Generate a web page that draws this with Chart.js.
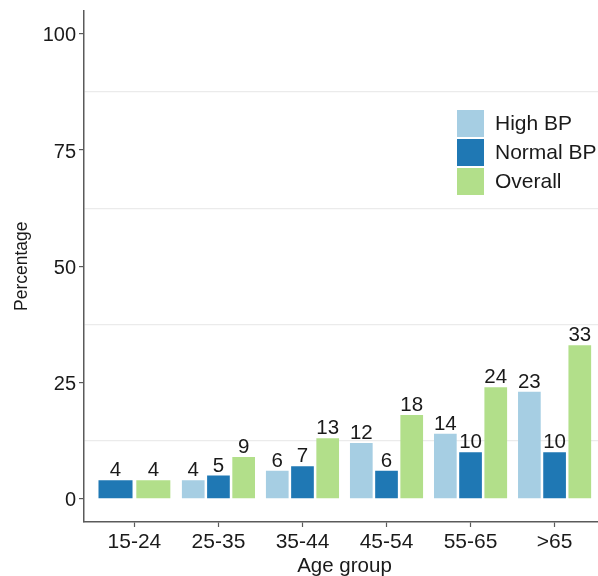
<!DOCTYPE html>
<html>
<head>
<meta charset="utf-8">
<script src="https://cdn.jsdelivr.net/npm/chart.js@4.4.1/dist/chart.umd.min.js"></script>
<style>
html,body{margin:0;padding:0;background:#fff;overflow:hidden;width:598px;height:576px;}
#wrap{position:absolute;left:0;top:0;width:605px;height:576px;}
canvas{display:block;}
</style>
</head>
<body>
<div id="wrap"><canvas id="c" width="605" height="576" style="width:605px;height:576px"></canvas></div>
<script>
// ---- data ----
const ageGroups = ['15-24', '25-35', '35-44', '45-54', '55-65', '>65'];
const highBP    = [null, 4, 6, 12, 14, 23];
const normalBP  = [4, 5, 7, 6, 10, 10];
const overall   = [4, 9, 13, 18, 24, 33];
const seriesNames = ['High BP', 'Normal BP', 'Overall'];
const seriesColors = ['#a6cee3', '#1f78b4', '#b2df8a'];
const yTickValues = [0, 12.5, 25, 37.5, 50, 62.5, 75, 87.5, 100];

const FONT = '"Liberation Sans", Arial, Helvetica, sans-serif';
const TXT = '#1a1a1a';
const AXIS = '#5a5a5a';

function toPoints(arr){ return arr.map((v,i)=>({x:i, y:v})); }

const valueLabels = {
  id: 'valueLabels',
  afterDatasetsDraw(chart){
    const ctx = chart.ctx;
    ctx.save();
    ctx.font = '20.5px ' + FONT;
    ctx.fillStyle = TXT;
    ctx.textAlign = 'center';
    ctx.textBaseline = 'alphabetic';
    chart.data.datasets.forEach((ds, di) => {
      const meta = chart.getDatasetMeta(di);
      meta.data.forEach((el, i) => {
        const v = ds.data[i].y;
        if (v === null || v === undefined) return;
        ctx.fillText(String(v), el.x, el.y - 4);
      });
    });
    ctx.restore();
  }
};

const customLegend = {
  id: 'customLegend',
  afterDraw(chart){
    const ctx = chart.ctx;
    ctx.save();
    const x0 = 457, y0 = 110, size = 27, step = 29;
    ctx.font = '21px ' + FONT;
    ctx.textBaseline = 'middle';
    ctx.textAlign = 'left';
    chart.data.datasets.forEach((ds, i) => {
      const y = y0 + i * step;
      ctx.fillStyle = ds.backgroundColor;
      ctx.fillRect(x0, y, size, size);
      ctx.fillStyle = TXT;
      ctx.fillText(ds.label, x0 + size + 11, y + size / 2 + 1);
    });
    ctx.restore();
  }
};

new Chart(document.getElementById('c'), {
  type: 'bar',
  data: {
    datasets: [
      { label: seriesNames[0], data: toPoints(highBP),   backgroundColor: seriesColors[0] },
      { label: seriesNames[1], data: toPoints(normalBP), backgroundColor: seriesColors[1] },
      { label: seriesNames[2], data: toPoints(overall),  backgroundColor: seriesColors[2] }
    ]
  },
  options: {
    responsive: false,
    animation: false,
    layout: { padding: { top: 10.5, right: 0, bottom: 0, left: 0 } },
    datasets: { bar: { skipNull: true, categoryPercentage: 0.9, barPercentage: 0.9 } },
    plugins: { legend: { display: false }, tooltip: { enabled: false } },
    scales: {
      x: {
        type: 'linear',
        min: -0.6, max: 5.6,
        offset: false,
        afterBuildTicks(scale){ scale.ticks = ageGroups.map((_, i) => ({ value: i })); },
        afterFit(scale){ scale.height = 54; scale.paddingLeft = 0; scale.paddingRight = 0; },
        grid: { offset: false, drawOnChartArea: false, drawTicks: true, tickLength: 5, tickColor: AXIS, tickWidth: 1.2 },
        border: { display: true, color: AXIS, width: 1.5 },
        ticks: {
          autoSkip: false, maxRotation: 0, padding: 3,
          font: { family: FONT, size: 21 }, color: TXT,
          callback: (v) => ageGroups[v] !== undefined ? ageGroups[v] : ''
        },
        title: { display: true, text: 'Age group', font: { family: FONT, size: 20.5, lineHeight: 1 }, color: TXT, padding: { top: 0, bottom: -1 } }
      },
      y: {
        min: -5, max: 105,
        afterBuildTicks(scale){ scale.ticks = yTickValues.map(v => ({ value: v })); },
        afterFit(scale){ scale.width = 84; scale.paddingTop = 0; scale.paddingBottom = 0; },
        grid: {
          drawTicks: true, tickLength: 5,
          color: (c) => (c.tick && c.tick.value % 25 !== 0) ? '#ebebeb' : 'rgba(0,0,0,0)',
          tickColor: (c) => (c.tick && c.tick.value % 25 === 0) ? AXIS : 'rgba(0,0,0,0)',
          lineWidth: 1.2
        },
        border: { display: true, color: AXIS, width: 1.5 },
        ticks: {
          autoSkip: false, padding: 3, labelOffset: 2,
          font: { family: FONT, size: 20 }, color: TXT,
          callback: (v) => (v % 25 === 0 ? String(v) : '')
        },
        title: { display: true, text: 'Percentage', font: { family: FONT, size: 17.5 }, color: TXT, padding: { top: 12, bottom: 0 } }
      }
    }
  },
  plugins: [valueLabels, customLegend]
});
</script>
</body>
</html>
